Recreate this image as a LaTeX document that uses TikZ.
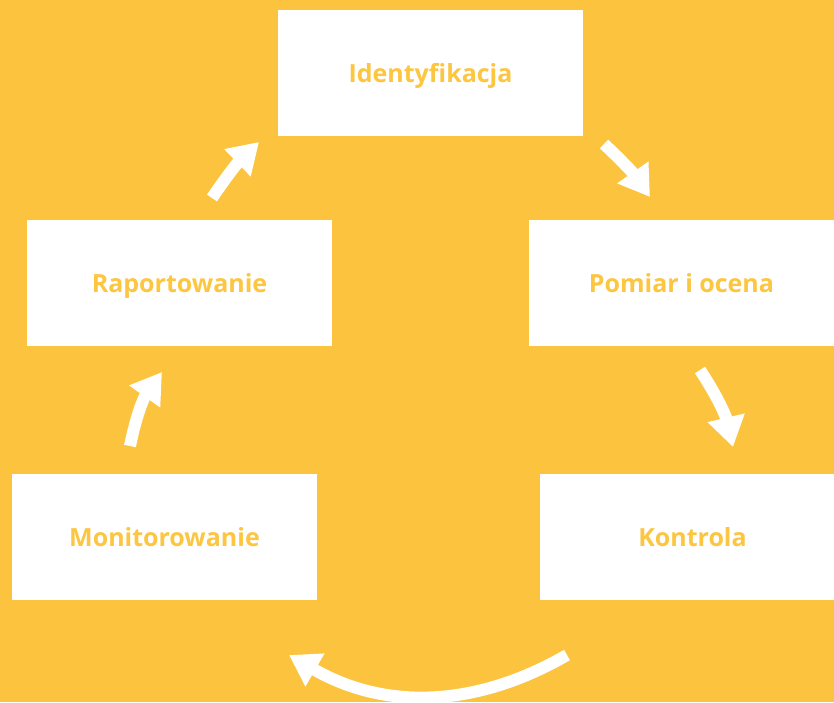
\documentclass[tikz,border=0pt]{standalone}
\usepackage{fontspec}
\setmainfont{Open Sans}
\usetikzlibrary{arrows.meta}
\definecolor{bg}{RGB}{252,196,62}
\definecolor{txt}{RGB}{253,198,65}
\begin{document}
\begin{tikzpicture}[x=1pt,y=1pt,
  stepbox/.style={fill=white,draw=none,minimum width=305pt,minimum height=126pt,inner sep=0pt,
    text height=18pt,text depth=0pt,
    text=txt,font=\fontsize{25}{30}\selectfont\bfseries},
  cyc/.style={draw=white,line width=12pt,-{Triangle[width=36pt,length=30pt]}}]
\fill[bg] (0,0) rectangle (834,-702);
\useasboundingbox (0,0) rectangle (834,-702);
\node[stepbox] (a) at (430.5,-73) {Identyfikacja};
\node[stepbox] (b) at (681.5,-283) {Pomiar i ocena};
\node[stepbox] (c) at (692.5,-537) {Kontrola};
\node[stepbox] (d) at (164.5,-537) {Monitorowanie};
\node[stepbox] (e) at (179.5,-283) {Raportowanie};
\coordinate (a1) at (604,-144); \coordinate (a2) at (650,-197);
\coordinate (b1) at (700,-370); \coordinate (b2) at (733,-447);
\coordinate (c1) at (567,-655); \coordinate (c2) at (289,-655);
\coordinate (d1) at (130,-446); \coordinate (d2) at (162,-372);
\coordinate (e1) at (212,-198); \coordinate (e2) at (259,-142);
\draw[cyc] (a1) to[bend left=6] (a2);
\draw[cyc] (b1) to[bend left=10] (b2);
\draw[cyc] (c1) to[bend left=30] (c2);
\draw[cyc] (d1) to[bend left=12] (d2);
\draw[cyc] (e1) to[bend left=6] (e2);
\end{tikzpicture}
\end{document}
